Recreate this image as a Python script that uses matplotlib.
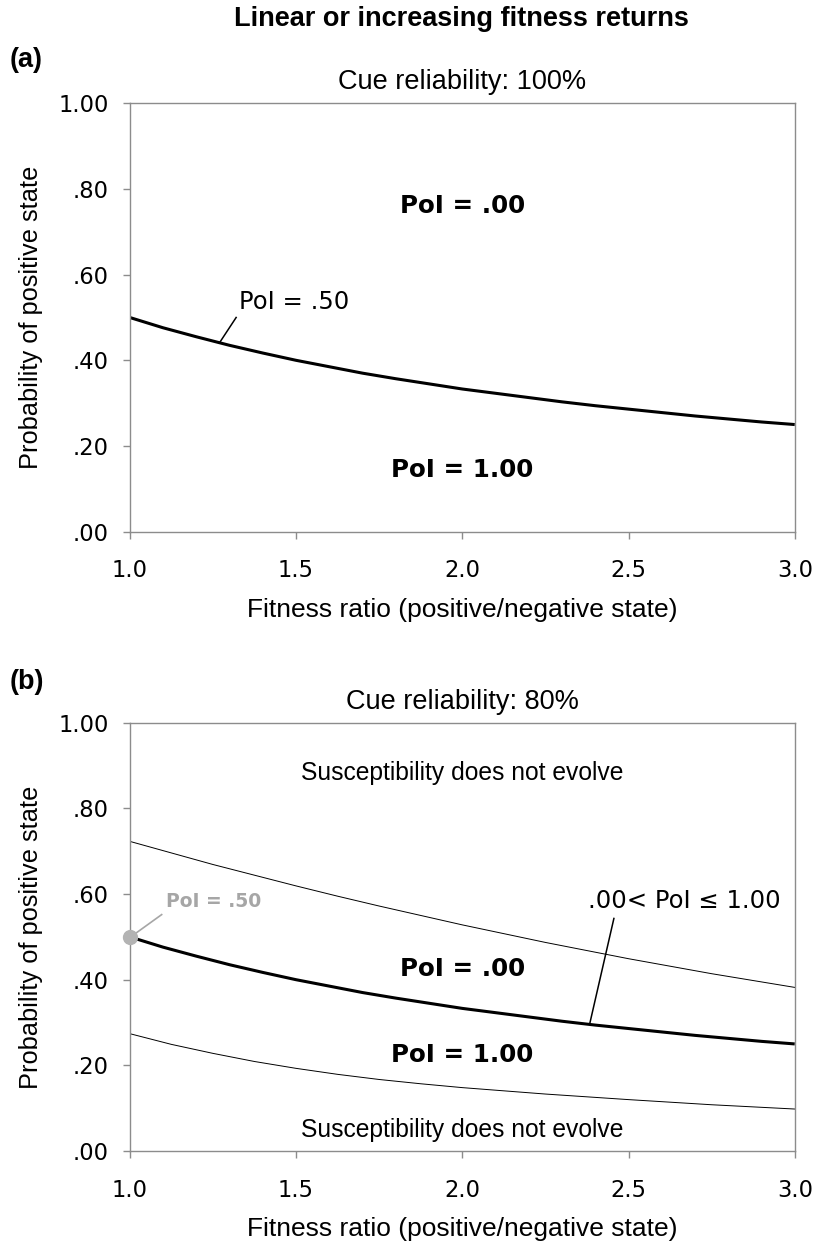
import matplotlib
matplotlib.use('Agg')
import matplotlib.pyplot as plt

# values
ratio_fine = [1.0, 1.1, 1.2, 1.3, 1.4, 1.5, 1.6, 1.7, 1.8, 1.9, 2.0,
              2.1, 2.2, 2.3, 2.4, 2.5, 2.6, 2.7, 2.8, 2.9, 3.0]
poi_half = [.500, .476, .455, .435, .417, .400, .385, .370, .357, .345, .333,
            .323, .313, .303, .294, .286, .278, .270, .263, .256, .250]

ratio_thin = [1.0, 1.125, 1.25, 1.375, 1.5, 1.625, 1.75, 1.875, 2.0,
              2.25, 2.5, 2.75, 3.0]
upper_80 = [.723, .696, .669, .644, .619, .595, .572, .550, .528,
            .487, .449, .414, .382]
lower_80 = [.274, .249, .228, .209, .193, .179, .167, .157, .148,
            .133, .120, .108, .098]

yticks = [0, .2, .4, .6, .8, 1.0]
ytick_labels = ['.00', '.20', '.40', '.60', '.80', '1.00']
xticks = [1.0, 1.5, 2.0, 2.5, 3.0]
xtick_labels = ['1.0', '1.5', '2.0', '2.5', '3.0']

arial = 'Liberation Sans'
verd = 'DejaVu Sans'

fig = plt.figure(figsize=(8.16, 12.45), dpi=100)
ax1 = fig.add_axes([0.159, 0.573, 0.815, 0.344])
ax2 = fig.add_axes([0.159, 0.0755, 0.815, 0.344])

for ax in (ax1, ax2):
    ax.set_xlim(1, 3)
    ax.set_ylim(0, 1)
    ax.set_xticks(xticks)
    ax.set_xticklabels(xtick_labels, fontfamily=verd, fontsize=16.3)
    ax.set_yticks(yticks)
    ax.set_yticklabels(ytick_labels, fontfamily=verd, fontsize=16.3)
    for s in ax.spines.values():
        s.set_color('#8c8c8c')
        s.set_linewidth(1.0)
    ax.tick_params(direction='out', color='#8c8c8c', length=5, width=1)
    ax.tick_params(axis='x', pad=15)
    ax.tick_params(axis='y', pad=10)
    ax.set_xlabel('Fitness ratio (positive/negative state)', fontfamily=arial, fontsize=19, labelpad=11)
    ax.set_ylabel('Probability of positive state', fontfamily=arial, fontsize=18.3, labelpad=11)

# panel a
ax1.plot(ratio_fine, poi_half, color='black', lw=2.2, solid_capstyle='butt')
ax1.set_title('Cue reliability: 100%', fontfamily=arial, fontsize=19.5, pad=10)
ax1.text(2.0, 0.761, 'PoI = .00', ha='center', va='center', fontfamily=verd, fontweight='bold', fontsize=17.7)
ax1.text(2.0, 0.145, 'PoI = 1.00', ha='center', va='center', fontfamily=verd, fontweight='bold', fontsize=17.7)
ax1.text(1.33, 0.536, 'PoI = .50', ha='left', va='center', fontfamily=verd, fontsize=17.5)
ax1.plot([1.32, 1.27], [0.50, 0.441], color='black', lw=1.1)

# panel b
ax2.plot(ratio_fine, poi_half, color='black', lw=2.2, solid_capstyle='butt')
ax2.plot(ratio_thin, upper_80, color='black', lw=0.7)
ax2.plot(ratio_thin, lower_80, color='black', lw=0.7)
ax2.set_title('Cue reliability: 80%', fontfamily=arial, fontsize=19.5, pad=10)
ax2.text(2.0, 0.882, 'Susceptibility does not evolve', ha='center', va='center', fontfamily=arial, fontsize=17.7)
ax2.text(2.0, 0.049, 'Susceptibility does not evolve', ha='center', va='center', fontfamily=arial, fontsize=17.7)
ax2.text(2.0, 0.424, 'PoI = .00', ha='center', va='center', fontfamily=verd, fontweight='bold', fontsize=17.7)
ax2.text(2.0, 0.224, 'PoI = 1.00', ha='center', va='center', fontfamily=verd, fontweight='bold', fontsize=17.7)
ax2.text(2.377, 0.583, '.00< PoI \u2264 1.00', ha='left', va='center', fontfamily=verd, fontsize=17.5)
ax2.plot([2.456, 2.383], [0.543, 0.296], color='black', lw=1.1)
ax2.text(1.108, 0.583, 'PoI = .50', ha='left', va='center', fontfamily=verd, fontweight='bold',
         fontsize=13.5, color='#a6a6a6')
ax2.plot([1.096, 1.012], [0.552, 0.505], color='#a6a6a6', lw=1.2)
ax2.plot([1.0], [0.5], 'o', color='#b3b3b3', ms=10, clip_on=False, zorder=5)

fig.text(0.565, 0.985, 'Linear or increasing fitness returns', ha='center', va='center',
         fontfamily=arial, fontweight='bold', fontsize=19.5)
fig.text(0.012, 0.952, '(a)', ha='left', va='center', fontfamily=arial, fontweight='bold', fontsize=19.5)
fig.text(0.012, 0.452, '(b)', ha='left', va='center', fontfamily=arial, fontweight='bold', fontsize=19.5)

fig.savefig('out.png', dpi=100)
